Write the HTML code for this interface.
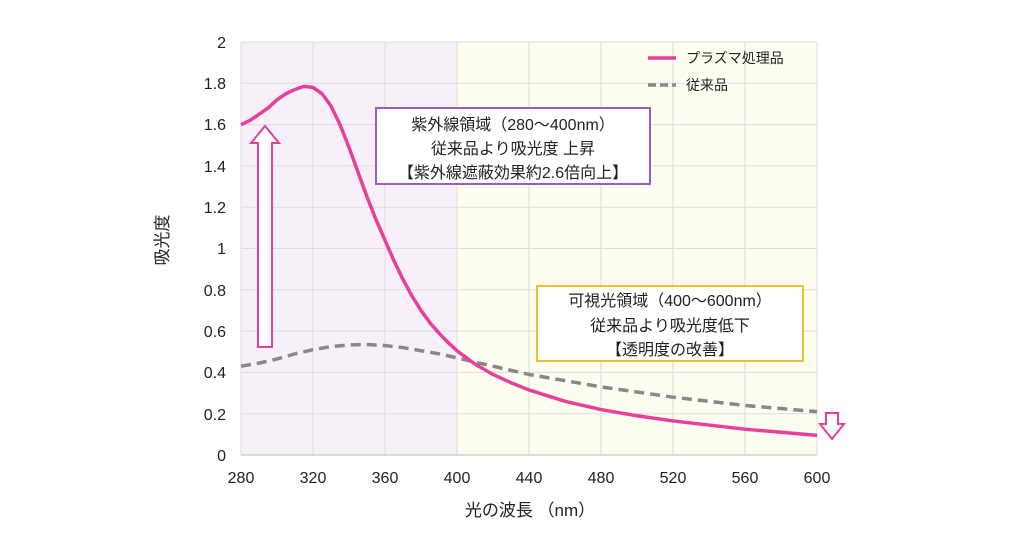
<!DOCTYPE html>
<html><head><meta charset="utf-8"><style>
body{margin:0;background:#fff}
text{font-family:"Liberation Sans","Noto Sans CJK JP",sans-serif;fill:#222}
</style></head><body>
<svg width="1024" height="547" viewBox="0 0 1024 547">
<rect x="241" y="42" width="216" height="413" fill="#f8f0f8"/>
<rect x="457" y="42" width="360" height="413" fill="#fdfdf0"/>
<g stroke="#dcdcdc" stroke-width="1">
<line x1="241" x2="817" y1="42" y2="42"/><line x1="241" x2="817" y1="83.3" y2="83.3"/><line x1="241" x2="817" y1="124.6" y2="124.6"/><line x1="241" x2="817" y1="165.9" y2="165.9"/><line x1="241" x2="817" y1="207.2" y2="207.2"/><line x1="241" x2="817" y1="248.5" y2="248.5"/><line x1="241" x2="817" y1="289.8" y2="289.8"/><line x1="241" x2="817" y1="331.1" y2="331.1"/><line x1="241" x2="817" y1="372.4" y2="372.4"/><line x1="241" x2="817" y1="413.7" y2="413.7"/>
<line y1="42" y2="455" x1="241" x2="241"/><line y1="42" y2="455" x1="313" x2="313"/><line y1="42" y2="455" x1="385" x2="385"/><line y1="42" y2="455" x1="457" x2="457"/><line y1="42" y2="455" x1="529" x2="529"/><line y1="42" y2="455" x1="601" x2="601"/><line y1="42" y2="455" x1="673" x2="673"/><line y1="42" y2="455" x1="745" x2="745"/><line y1="42" y2="455" x1="817" x2="817"/>
</g>
<line x1="241" x2="817" y1="455" y2="455" stroke="#bbb"/>
<g transform="translate(241,455) scale(1.8,-206.5)" fill="none" stroke-linejoin="round">
<polyline vector-effect="non-scaling-stroke" stroke="#888" stroke-width="3.5" stroke-dasharray="10,6" points="0,.43 10,.445 20,.465 30,.49 40,.51 50,.525 60,.533 70,.535 80,.53 90,.52 100,.505 110,.49 120,.47 140,.43 160,.39 180,.36 200,.33 220,.305 240,.28 260,.26 280,.24 300,.225 320,.21"/>
<polyline vector-effect="non-scaling-stroke" stroke="#e8409a" stroke-width="3.5" points="0,1.6 5,1.62 10,1.65 15,1.68 20,1.72 25,1.75 30,1.77 35,1.785 40,1.78 45,1.75 50,1.69 55,1.6 60,1.49 65,1.37 70,1.25 75,1.14 80,1.04 85,.94 90,.85 95,.77 100,.7 105,.64 110,.59 115,.545 120,.505 130,.44 140,.39 150,.35 160,.315 180,.26 200,.22 220,.19 240,.165 260,.145 280,.125 300,.11 320,.095"/>
</g>
<path d="M265,126 L279,143 L272,143 L272,347 L258,347 L258,143 L251,143 Z" fill="#fff" stroke="#e8409a" stroke-width="2"/>
<path d="M826,413 L838,413 L838,424 L844,424 L832,439 L820,424 L826,424 Z" fill="#fff" stroke="#e8409a" stroke-width="2"/>
<rect x="376" y="108" width="274" height="76" fill="#fff" stroke="#9a5cc6" stroke-width="2"/>
<text x="513" y="130" font-size="16" text-anchor="middle">紫外線領域（280～400nm）</text>
<text x="513" y="154" font-size="16" text-anchor="middle">従来品より吸光度 上昇</text>
<text x="513" y="178" font-size="16" text-anchor="middle">【紫外線遮蔽効果約2.6倍向上】</text>
<rect x="537" y="286" width="266" height="75" fill="#fff" stroke="#e8c030" stroke-width="2"/>
<text x="670" y="306" font-size="16" text-anchor="middle">可視光領域（400～600nm）</text>
<text x="670" y="331" font-size="16" text-anchor="middle">従来品より吸光度低下</text>
<text x="670" y="355" font-size="16" text-anchor="middle">【透明度の改善】</text>
<line x1="648" x2="676" y1="58" y2="58" stroke="#e8409a" stroke-width="3.5"/>
<text x="686" y="63" font-size="14">プラズマ処理品</text>
<line x1="648" x2="676" y1="85" y2="85" stroke="#888" stroke-width="3.5" stroke-dasharray="8,4"/>
<text x="686" y="90" font-size="14">従来品</text>
<g font-size="16" text-anchor="end">
<text x="226" y="48">2</text><text x="226" y="89">1.8</text><text x="226" y="130">1.6</text><text x="226" y="172">1.4</text><text x="226" y="213">1.2</text><text x="226" y="254">1</text><text x="226" y="296">0.8</text><text x="226" y="337">0.6</text><text x="226" y="378">0.4</text><text x="226" y="420">0.2</text><text x="226" y="461">0</text>
</g>
<g font-size="16" text-anchor="middle">
<text x="241" y="483">280</text><text x="313" y="483">320</text><text x="385" y="483">360</text><text x="457" y="483">400</text><text x="529" y="483">440</text><text x="601" y="483">480</text><text x="673" y="483">520</text><text x="745" y="483">560</text><text x="817" y="483">600</text>
</g>
<text x="530" y="516" font-size="17" text-anchor="middle">光の波長 （nm）</text>
<text transform="translate(168,240) rotate(-90)" font-size="17" text-anchor="middle">吸光度</text>
</svg>
</body></html>
